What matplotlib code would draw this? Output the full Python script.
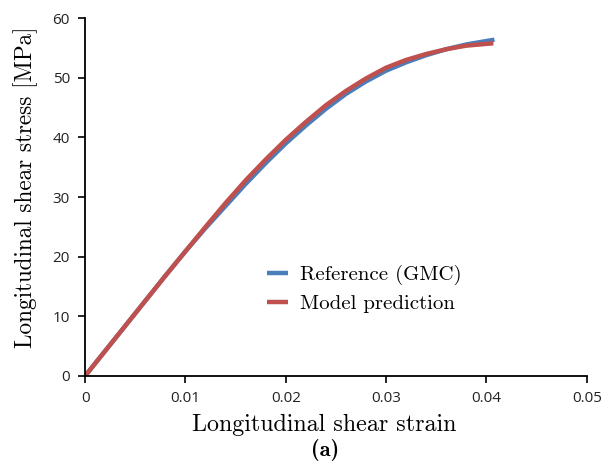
import matplotlib
matplotlib.use('Agg')
import matplotlib.pyplot as plt

# curve points
strain_ref = [0.0, 0.004, 0.008, 0.010, 0.012, 0.014, 0.016, 0.018, 0.020, 0.022,
              0.024, 0.026, 0.028, 0.030, 0.032, 0.034, 0.036, 0.038, 0.0408]
stress_ref = [0.0, 8.4, 16.8, 20.9, 24.8, 28.5, 32.2, 35.7, 39.0, 42.0,
              44.8, 47.3, 49.4, 51.2, 52.6, 53.8, 54.8, 55.6, 56.4]

strain_mod = [0.0, 0.004, 0.008, 0.010, 0.012, 0.014, 0.016, 0.018, 0.020, 0.022,
              0.024, 0.026, 0.028, 0.030, 0.032, 0.034, 0.036, 0.038, 0.0407]
stress_mod = [0.0, 8.4, 16.8, 20.9, 25.0, 29.0, 32.8, 36.3, 39.6, 42.6,
              45.4, 47.8, 49.9, 51.7, 53.0, 54.0, 54.8, 55.4, 55.8]

xticks = [0, 0.01, 0.02, 0.03, 0.04, 0.05]
xtick_labels = ['0', '0.01', '0.02', '0.03', '0.04', '0.05']
yticks = [0, 10, 20, 30, 40, 50, 60]

fig = plt.figure(figsize=(6.08, 4.67), dpi=100)
ax = fig.add_axes([0.14, 0.195, 0.825, 0.766])

ax.plot(strain_ref, stress_ref, color='#4a7ebb', lw=3.2, label='Reference (GMC)',
        solid_capstyle='butt', solid_joinstyle='round')
ax.plot(strain_mod, stress_mod, color='#c0504d', lw=3.2, label='Model prediction',
        solid_capstyle='butt', solid_joinstyle='round')

ax.set_xlim(0, 0.05)
ax.set_ylim(0, 60)
ax.set_xticks(xticks)
ax.set_xticklabels(xtick_labels)
ax.set_yticks(yticks)
for lab in ax.get_xticklabels() + ax.get_yticklabels():
    lab.set_fontfamily('Open Sans')
    lab.set_fontsize(11)
    lab.set_color('#222222')

ax.spines['top'].set_visible(False)
ax.spines['right'].set_visible(False)
ax.spines['left'].set_linewidth(1.3)
ax.spines['bottom'].set_linewidth(1.3)
ax.tick_params(direction='out', length=5, width=1.2, pad=6)

ax.set_xlabel('Longitudinal shear strain', fontfamily='cmr10', fontsize=17.3)
ax.set_ylabel('Longitudinal shear stress [MPa]', fontfamily='cmr10', fontsize=16.7)
ax.xaxis.set_label_coords(0.476, -0.105)
ax.yaxis.set_label_coords(-0.094, 0.528)

ax.legend(loc='upper left', bbox_to_anchor=(0.325, 0.363), frameon=False,
          prop={'family': 'cmr10', 'size': 15}, handlelength=1.0, handletextpad=0.6,
          labelspacing=0.45)

fig.text(0.535, 0.036, '(a)', fontfamily='cmb10', fontsize=16, ha='center', va='center')

fig.savefig('out.png', dpi=100)
